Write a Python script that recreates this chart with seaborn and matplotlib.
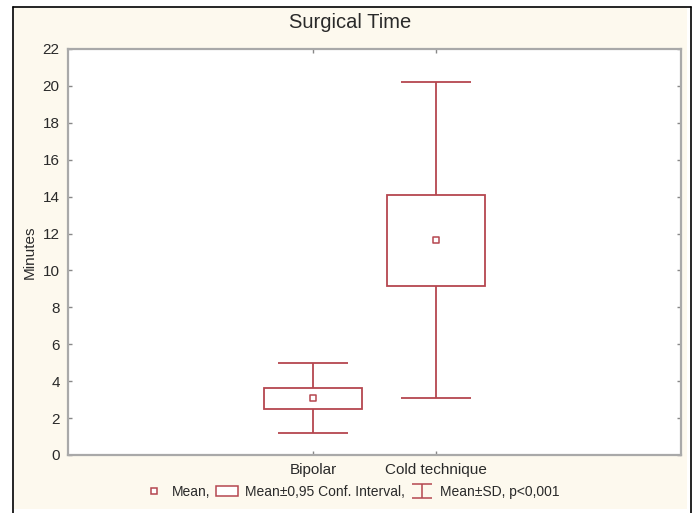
import matplotlib
matplotlib.use("Agg")
import matplotlib.pyplot as plt
import seaborn as sns
import pandas as pd
import numpy as np
from matplotlib.patches import Rectangle, Patch
from matplotlib.lines import Line2D

# ---- data ----
groups = ["Bipolar", "Cold technique"]
mean_vals = [3.10, 11.64]
ci_low = [2.50, 9.17]
ci_high = [3.62, 14.11]
sd_low = [1.18, 3.07]
sd_high = [4.97, 20.20]
y_ticks = list(range(0, 23, 2))
title = "Surgical Time"
y_label = "Minutes"
legend_labels = ["Mean,", "Mean\u00b10,95 Conf. Interval,", "Mean\u00b1SD, p<0,001"]

df = pd.DataFrame({"group": groups, "mean": mean_vals, "lo": ci_low, "hi": ci_high,
                   "sdlo": sd_low, "sdhi": sd_high})

sns.set_theme(style="white")
plt.rcParams["font.family"] = ["Liberation Sans", "DejaVu Sans"]

RED = "#b5474f"
TXT = "#2a2a2a"
W, H = 698, 513
fig = plt.figure(figsize=(W / 100, H / 100), dpi=100)
fig.patch.set_facecolor("white")

# cream panel and black frame (pixel coords -> figure fraction)
def fx(px): return px / W
def fy(py): return 1 - py / H
fig.patches.append(Rectangle((fx(14), fy(509)), fx(687) - fx(14), fy(8) - fy(509),
                             transform=fig.transFigure, facecolor="#fdf9ee", edgecolor="none", zorder=-10))
fig.lines.append(Line2D([fx(13), fx(13)], [fy(7), fy(513)], transform=fig.transFigure, color="black", lw=1.2, zorder=-5))
fig.lines.append(Line2D([fx(13), fx(691)], [fy(7), fy(7)], transform=fig.transFigure, color="black", lw=1.2, zorder=-5))
fig.lines.append(Line2D([fx(691), fx(691)], [fy(7), fy(513)], transform=fig.transFigure, color="black", lw=1.2, zorder=-5))

ax = fig.add_axes([fx(68), fy(455), fx(681) - fx(68), fy(49) - fy(455)])
ax.set_facecolor("white")

x = np.arange(len(groups))

# SD whiskers
means = df["mean"].to_numpy()
err = [means - df["sdlo"].to_numpy(), df["sdhi"].to_numpy() - means]
ax.errorbar(x, means, yerr=err, fmt="none", ecolor=RED, elinewidth=1.3,
            capsize=25, capthick=1.3, zorder=2)

# CI boxes
ax.bar(x, df["hi"] - df["lo"], bottom=df["lo"], width=0.8, facecolor="white",
       edgecolor=RED, linewidth=1.3, zorder=3)

# mean markers via seaborn
sns.scatterplot(data=df, x=x, y="mean", marker="s", s=18, facecolor="white",
                edgecolor=RED, linewidth=1.1, zorder=4, ax=ax, legend=False)

ax.set_xlim(-2, 3)
ax.set_ylim(0, 22)
ax.set_xticks(x)
ax.set_xticklabels(groups)
ax.set_yticks(y_ticks)
ax.set_xlabel("")
ax.set_ylabel(y_label, fontsize=11, color=TXT, labelpad=4)
ax.tick_params(axis="both", direction="in", length=3, width=1, color="#888888",
               labelsize=11, labelcolor=TXT, top=True, right=True,
               bottom=True, left=True)
ax.tick_params(axis="y", pad=6)
ax.tick_params(axis="x", pad=6)
for s in ax.spines.values():
    s.set_visible(True)
    s.set_color("#a9a9a9")
    s.set_linewidth(1.6)

fig.text(fx(350), fy(23), title, ha="center", va="center", fontsize=14.5, color=TXT)

# legend
h_mean = Line2D([], [], marker="s", markersize=4.5, markerfacecolor="white",
                markeredgecolor=RED, markeredgewidth=1.1, linestyle="none")
h_box = Patch(facecolor="white", edgecolor=RED, linewidth=1.1)
eb_leg = ax.errorbar([np.nan], [np.nan], yerr=[[1], [1]], fmt="none", ecolor=RED,
                     elinewidth=1.1, capsize=7, capthick=1.1)
fig.legend([h_mean, h_box, eb_leg], legend_labels, loc="center",
           bbox_to_anchor=(fx(351), fy(492)), ncol=3, frameon=False, fontsize=10,
           handlelength=1.6, handletextpad=0.5, columnspacing=0.4, labelcolor=TXT)

fig.savefig("out.png", dpi=100, facecolor="white")
